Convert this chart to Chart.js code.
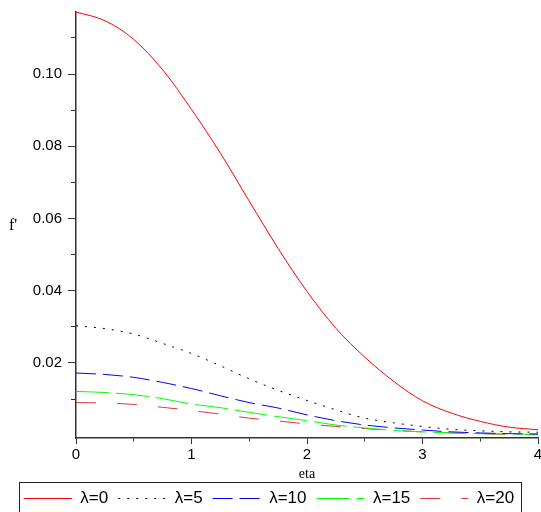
<!DOCTYPE html>
<html><head><meta charset="utf-8">
<script src="https://cdn.jsdelivr.net/npm/chart.js@4"></script>
<style>html,body{margin:0;padding:0;background:#fff;overflow:hidden}</style>
</head><body>
<canvas id="c" width="541" height="512"></canvas>
<script>
const eta = [0,0.25,0.5,0.75,1,1.25,1.5,1.75,2,2.25,2.5,2.75,3,3.25,3.5,3.75,4];
const lam0  = [0.1172,0.1148,0.1096,0.1012,0.0902,0.0781,0.0648,0.0517,0.0398,0.0296,0.0216,0.0149,0.0095,0.0061,0.0038,0.0022,0.0015];
const lam5  = [0.0303,0.0295,0.0280,0.0254,0.0226,0.0192,0.0156,0.0124,0.0096,0.0070,0.0047,0.0034,0.0024,0.0016,0.0012,0.0009,0.0008];
const lam10 = [0.0172,0.0168,0.0160,0.0146,0.0129,0.0109,0.0090,0.0075,0.0056,0.0040,0.0028,0.0020,0.0014,0.0009,0.0006,0.0004,0.0003];
const lam15 = [0.0121,0.0118,0.0112,0.0101,0.0086,0.0076,0.0063,0.0051,0.0040,0.0028,0.0020,0.0013,0.0009,0.0006,0.0004,0.0003,0.0002];
const lam20 = [0.0090,0.0089,0.0085,0.0077,0.0068,0.0058,0.0047,0.0039,0.0031,0.0024,0.0018,0.0013,0.0009,0.0006,0.0004,0.0002,0.0001];
const seriesLabels = ['λ=0','λ=5','λ=10','λ=15','λ=20'];
const xTickValues = [0,0.5,1,1.5,2,2.5,3,3.5,4];
const xLabelValues = [0,1,2,3,4];
const yTickValues = [0.01,0.02,0.03,0.04,0.05,0.06,0.07,0.08,0.09,0.10,0.11];
const yLabelValues = [0.02,0.04,0.06,0.08,0.10];
const xTitle = 'eta';
const yTitle = "f'";

const isLabel = (v, list) => list.some(l => Math.abs(l - v) < 1e-9);
const pts = ys => eta.map((x, i) => ({x, y: ys[i]}));
const seriesData = [lam0, lam5, lam10, lam15, lam20];
const styles = [
  {color:'#ff0000', dash:[]},
  {color:'#000000', dash:[2,7]},
  {color:'#0000ff', dash:[20,7]},
  {color:'#00ff00', dash:[33,7]},
  {color:'#dd3838', dash:[20,21]}
];

const decor = {
  id: 'decor',
  afterDraw(chart) {
    const ctx = chart.ctx;
    const ca = chart.chartArea;
    ctx.save();
    ctx.fillStyle = '#000';
    ctx.font = '16px "Liberation Serif"';
    ctx.textAlign = 'center';
    ctx.textBaseline = 'middle';
    ctx.fillText(yTitle, 13, (ca.top + ca.bottom) / 2 + 1);
    const hb = chart.legend.legendHitBoxes;
    if (hb && hb.length) {
      const l = hb[0].left - 5;
      const last = hb[hb.length - 1];
      const r = last.left + last.width + 7;
      const t = hb[0].top - 8;
      ctx.strokeStyle = '#222';
      ctx.lineWidth = 1;
      ctx.strokeRect(Math.round(l) + 0.5, Math.round(t) + 0.5, Math.round(r - l), 40);
    }
    ctx.restore();
  }
};

new Chart(document.getElementById('c'), {
  type: 'line',
  data: {
    datasets: seriesData.map((d, i) => ({
      label: seriesLabels[i],
      data: pts(d),
      borderColor: styles[i].color,
      backgroundColor: styles[i].color,
      borderDash: styles[i].dash,
      borderWidth: 1,
      pointRadius: 0,
      fill: false,
      cubicInterpolationMode: 'monotone'
    }))
  },
  options: {
    responsive: false,
    animation: false,
    devicePixelRatio: 1,
    layout: {padding: {top: 12, right: 3, left: 0, bottom: 0}},
    plugins: {
      tooltip: {enabled: false},
      legend: {
        position: 'bottom',
        maxHeight: 32,
        labels: {
          usePointStyle: true,
          pointStyle: 'line',
          pointStyleWidth: 48,
          padding: 10,
          color: '#000',
          font: {family: '"Liberation Sans", Arial, sans-serif', size: 17},
          generateLabels: chart => {
            const items = Chart.defaults.plugins.legend.labels.generateLabels(chart);
            items.forEach(it => {
              const ds = chart.data.datasets[it.datasetIndex];
              it.lineDash = ds.borderDash;
              it.strokeStyle = ds.borderColor;
              it.fillStyle = ds.borderColor;
              it.lineWidth = 1;
            });
            return items;
          }
        }
      }
    },
    scales: {
      x: {
        type: 'linear',
        min: 0, max: 4,
        afterBuildTicks: s => { s.ticks = xTickValues.map(v => ({value: v})); },
        afterFit: s => { s.height = 42; s.paddingLeft = 0; s.paddingRight = 0; },
        ticks: {
          autoSkip: false, maxRotation: 0, padding: 2, color: '#000',
          font: {family: '"Liberation Sans", Arial, sans-serif', size: 15},
          callback: v => isLabel(v, xLabelValues) ? String(v) : ''
        },
        grid: {
          drawOnChartArea: false, drawTicks: true, tickLength: 6, tickColor: '#333',
          tickBorderDash: c => (c.tick && isLabel(c.tick.value, xLabelValues)) ? [] : [3, 100]
        },
        border: {display: true, color: '#333', width: 1.5},
        title: {display: true, text: xTitle, color: '#000', padding: {top: 0, bottom: -3},
          font: {family: '"Liberation Serif", serif', size: 14}}
      },
      y: {
        type: 'linear',
        min: -0.0008, max: 0.1172,
        afterBuildTicks: s => { s.ticks = yTickValues.map(v => ({value: v})); },
        afterFit: s => { s.width = 76; s.paddingTop = 0; s.paddingBottom = 0; },
        ticks: {
          autoSkip: false, padding: 6, color: '#000',
          font: {family: '"Liberation Sans", Arial, sans-serif', size: 15},
          callback: v => isLabel(v, yLabelValues) ? v.toFixed(2) : ''
        },
        grid: {
          drawOnChartArea: false, drawTicks: true, tickLength: 8, tickColor: '#333',
          tickBorderDash: c => (c.tick && isLabel(c.tick.value, yLabelValues)) ? [] : [0, 3, 5, 0]
        },
        border: {display: true, color: '#333', width: 1.5}
      }
    }
  },
  plugins: [decor]
});
</script>
</body></html>
